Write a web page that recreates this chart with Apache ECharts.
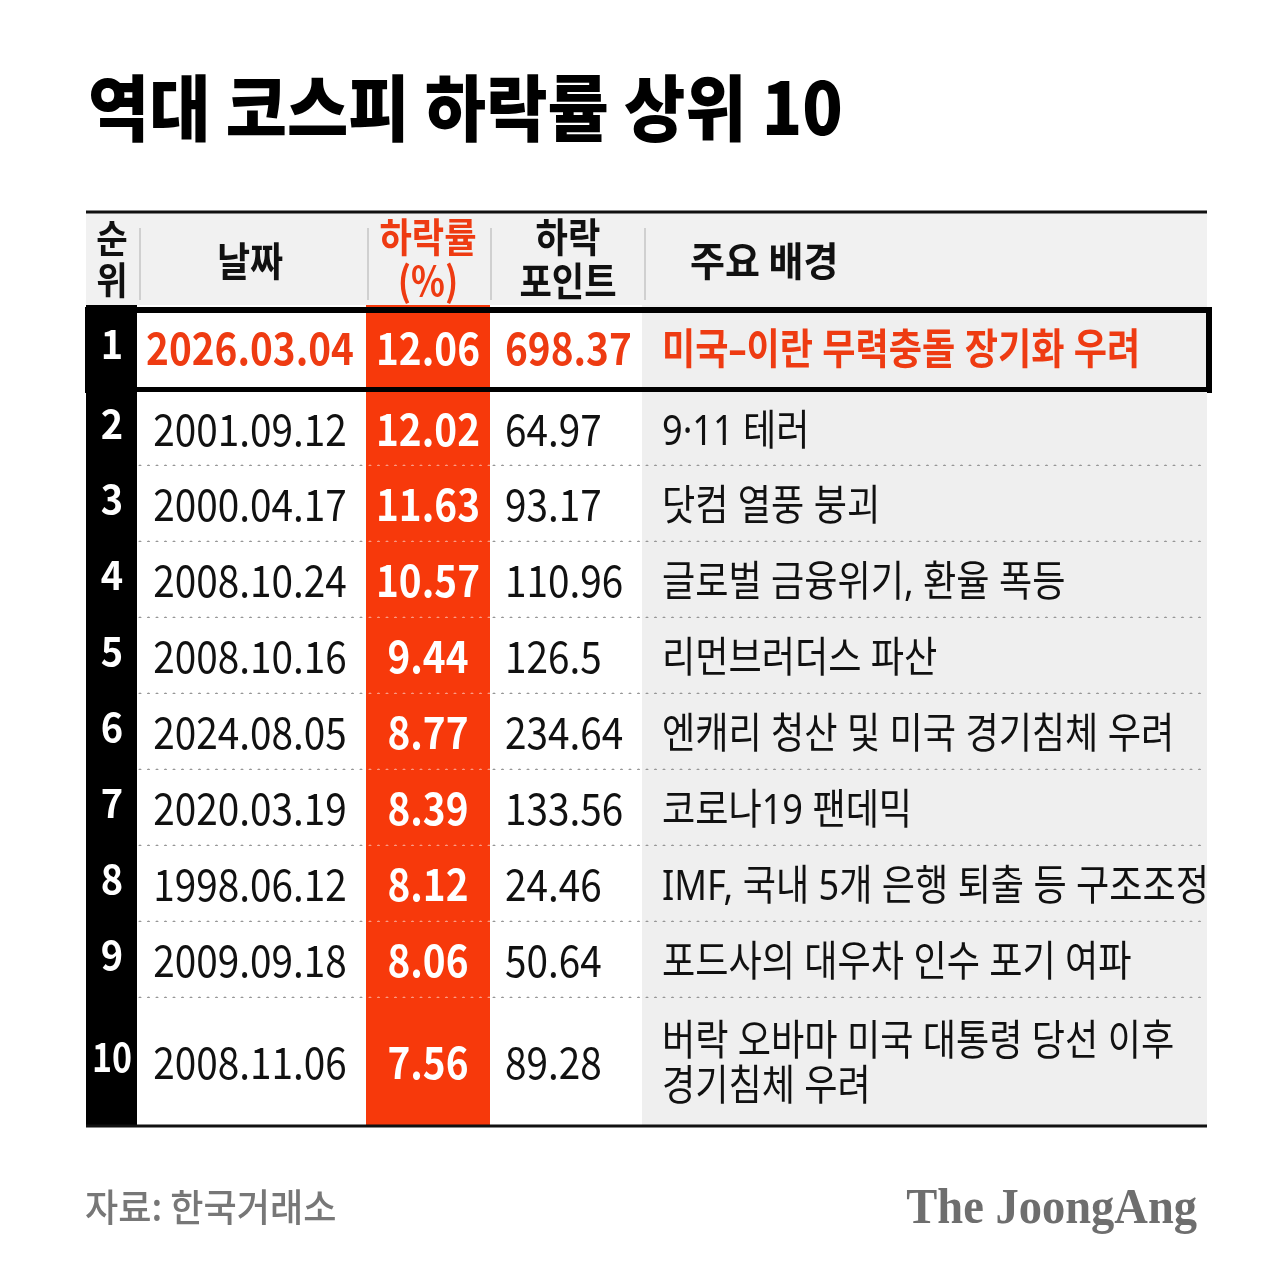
<!DOCTYPE html>
<html>
<head>
<meta charset="utf-8">
<script src="https://cdn.jsdelivr.net/npm/echarts@6/dist/echarts.min.js"></script>
<style>
  html, body { margin: 0; padding: 0; background: #fff; }
  #chart { width: 1285px; height: 1285px; }
</style>
</head>
<body>
<div id="chart"></div>
<script>
// 표 데이터
var ranks = ['1', '2', '3', '4', '5', '6', '7', '8', '9', '10'];
var dates = ['2026.03.04', '2001.09.12', '2000.04.17', '2008.10.24', '2008.10.16',
             '2024.08.05', '2020.03.19', '1998.06.12', '2009.09.18', '2008.11.06'];
var dropPct = [12.06, 12.02, 11.63, 10.57, 9.44, 8.77, 8.39, 8.12, 8.06, 7.56];
var dropPts = [698.37, 64.97, 93.17, 110.96, 126.5, 234.64, 133.56, 24.46, 50.64, 89.28];
var reasons = ['미국–이란 무력충돌 장기화 우려', '9·11 테러', '닷컴 열풍 붕괴',
               '글로벌 금융위기, 환율 폭등', '리먼브러더스 파산',
               '엔캐리 청산 및 미국 경기침체 우려', '코로나19 팬데믹',
               'IMF, 국내 5개 은행 퇴출 등 구조조정', '포드사의 대우차 인수 포기 여파',
               '버락 오바마 미국 대통령 당선 이후\n경기침체 우려'];
var headers = ['순\n위', '날짜', '하락률\n(%)', '하락\n포인트', '주요 배경'];

// 레이아웃 (표 단위)
var colEdges = [0, 51, 280, 404, 556, 1121];
var rowEdges = [93, 180, 254, 330, 406, 482, 558, 634, 710, 786, 914];
var headerH = 93;

var FONT = '"Noto Sans CJK KR", "Noto Sans", sans-serif';
var FONT_MIX = '"Noto Sans", "Noto Sans CJK KR", sans-serif';
var RED = '#F7390B';
var RED_TEXT = '#EE3B12';
var GRAY_BG = '#EFEFEF';

var chart = echarts.init(document.getElementById('chart'));

function rect(api, x0, x1, y0, y1, style) {
    var p0 = api.coord([x0, y0]);
    var p1 = api.coord([x1, y1]);
    return {
        type: 'rect',
        shape: { x: p0[0], y: p0[1], width: p1[0] - p0[0], height: p1[1] - p0[1] },
        style: style
    };
}

function line(api, x0, x1, y0, y1, style) {
    var p0 = api.coord([x0, y0]);
    var p1 = api.coord([x1, y1]);
    return { type: 'line', shape: { x1: p0[0], y1: p0[1], x2: p1[0], y2: p1[1] }, style: style };
}

function txt(api, x, y, text, o) {
    var p = api.coord([x, y]);
    return {
        type: 'text',
        x: p[0], y: p[1],
        scaleX: o.sx || 1,
        style: {
            x: 0, y: 0, text: text,
            fill: o.color || '#111',
            fontSize: o.size,
            fontWeight: o.weight || 'normal',
            fontFamily: o.font || FONT,
            align: o.align || 'center',
            verticalAlign: 'middle',
            lineHeight: o.lh || o.size * 1.1
        }
    };
}

function renderHeader(params, api) {
    var kids = [];
    kids.push(rect(api, 0, 1121, 0, headerH, { fill: '#F1F1F1' }));
    kids.push(line(api, 0, 1121, 0, 0, { stroke: '#111', lineWidth: 3 }));
    [54, 282, 405, 559].forEach(function (x) {
        kids.push(line(api, x, x, 16, 88, { stroke: '#D0D0D0', lineWidth: 2 }));
    });
    kids.push(txt(api, 26, 47, headers[0], { size: 38, weight: 'bold', sx: 0.9, lh: 42 }));
    kids.push(txt(api, 164, 49, headers[1], { size: 40, weight: 'bold', sx: 0.9 }));
    kids.push(txt(api, 342, 47, headers[2], { size: 40, weight: 'bold', sx: 0.88, lh: 44, color: RED_TEXT }));
    kids.push(txt(api, 482, 47, headers[3], { size: 40, weight: 'bold', sx: 0.88, lh: 44 }));
    kids.push(txt(api, 604, 49, headers[4], { size: 40, weight: 'bold', sx: 0.95, align: 'left' }));
    return { type: 'group', children: kids };
}

function renderRow(params, api) {
    var i = params.dataIndex;
    var top = rowEdges[i], bot = rowEdges[i + 1];
    var mid = (top + bot) / 2;
    var first = i === 0;
    var kids = [];
    kids.push(rect(api, colEdges[0], colEdges[1], top, bot, { fill: '#000' }));
    kids.push(rect(api, colEdges[1], colEdges[2], top, bot, { fill: '#fff' }));
    kids.push(rect(api, colEdges[2], colEdges[3], top, bot, { fill: RED }));
    kids.push(rect(api, colEdges[3], colEdges[4], top, bot, { fill: '#fff' }));
    kids.push(rect(api, colEdges[4], colEdges[5], top, bot, { fill: GRAY_BG }));

    if (i > 0 && i < ranks.length - 1) {
        var dot = { lineWidth: 3.2, lineCap: 'round', lineDash: [0, 8.5] };
        kids.push(line(api, 54, colEdges[2], bot, bot, Object.assign({ stroke: '#969696' }, dot)));
        kids.push(line(api, colEdges[2] + 4, colEdges[3], bot, bot, Object.assign({ stroke: 'rgba(255,255,255,0.5)' }, dot)));
        kids.push(line(api, colEdges[3] + 4, 1119, bot, bot, Object.assign({ stroke: '#969696' }, dot)));
    }
    if (i === ranks.length - 1) {
        kids.push(line(api, 0, 1121, bot, bot, { stroke: '#111', lineWidth: 3 }));
    }

    var numColor = first ? RED_TEXT : '#111';
    var numWeight = first ? 'bold' : 'normal';
    kids.push(txt(api, 26, mid - 5, ranks[i], { size: 40, weight: 'bold', sx: ranks[i].length > 1 ? 0.85 : 0.95, color: '#fff' }));
    kids.push(txt(api, 164, mid, dates[i], { size: 44, weight: numWeight, sx: 0.88, color: numColor }));
    kids.push(txt(api, 342, mid, api.value(1).toFixed(2), { size: 44, weight: 'bold', sx: 0.88, color: '#fff' }));
    kids.push(txt(api, 419, mid, String(dropPts[i]), { size: 44, weight: numWeight, sx: 0.88, color: numColor, align: 'left' }));
    kids.push(txt(api, 576, mid + 4, reasons[i], { size: 42, weight: numWeight, sx: 0.86, color: numColor, align: 'left', lh: 45, font: FONT_MIX }));

    if (first) {
        kids.push(rect(api, 2, 1123, 98, 178, { fill: 'none', stroke: '#000', lineWidth: 6 }));
    }
    return { type: 'group', children: kids };
}

var option = {
    backgroundColor: '#fff',
    animation: false,
    grid: { left: 86, right: 78, top: 212, bottom: 159 },
    xAxis: { type: 'value', min: 0, max: 1121, show: false },
    yAxis: { type: 'value', min: 0, max: 914, inverse: true, show: false },
    graphic: [
        { type: 'text', x: 88, y: 108, scaleX: 0.925,
          style: { text: '역대 코스피 하락률 상위 10', fontSize: 72, fontWeight: 900,
                   fontFamily: FONT, fill: '#000', align: 'left', verticalAlign: 'middle' } },
        { type: 'text', x: 85, y: 1207, scaleX: 0.95,
          style: { text: '자료: 한국거래소', fontSize: 38, fontWeight: 500,
                   fontFamily: FONT, fill: '#777', align: 'left', verticalAlign: 'middle' } },
        { type: 'text', x: 1197, y: 1210, scaleX: 0.93,
          style: { text: 'The JoongAng', fontSize: 50, fontWeight: 'bold',
                   fontFamily: '"Liberation Serif", serif', fill: '#6E6E6E', align: 'right', verticalAlign: 'middle' } }
    ],
    series: [
        {
            type: 'custom',
            name: 'header',
            clip: false,
            renderItem: renderHeader,
            data: [[0, 0]]
        },
        {
            type: 'custom',
            name: 'rows',
            clip: false,
            renderItem: renderRow,
            data: ranks.map(function (r, i) { return [i, dropPct[i]]; })
        }
    ]
};

chart.setOption(option);
</script>
</body>
</html>
